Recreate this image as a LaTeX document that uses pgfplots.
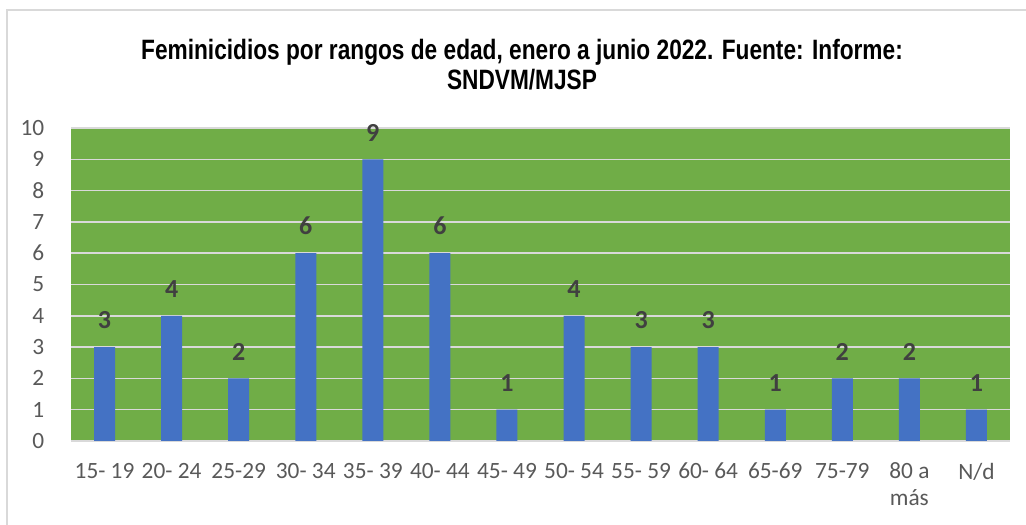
\documentclass[border=0pt]{standalone}
\usepackage{pgfplots}
\pgfplotsset{compat=1.18}
\usepackage{fontspec}
\setmainfont{Carlito}
\newfontfamily\titlefont{Liberation Sans}
\definecolor{bargreen}{HTML}{70AD47}
\definecolor{barblue}{HTML}{4472C4}
\definecolor{ticktext}{HTML}{595959}
\definecolor{lbltext}{HTML}{404040}
\definecolor{gridc}{HTML}{D9D9D9}
\begin{document}
\begin{tikzpicture}[x=0.75pt,y=0.75pt]
\path[use as bounding box] (0,0) rectangle (1026,525);
\draw[gridc, line width=1.5pt] (7,-20) -- (7,515) -- (1040,515);
\node[font=\titlefont\bfseries\fontsize{21}{22.5}\selectfont, align=center] at (522,460)
  {\scalebox{0.81}[1]{Feminicidios por rangos de edad, enero a junio 2022. Fuente: Informe:}\\
   \scalebox{0.81}[1]{SNDVM/MJSP}};
\foreach \v in {0,...,10} {
  \node[anchor=east, font=\fontsize{17.5}{20}\selectfont, text=ticktext] at (49,84+31.3*\v) {\v};
}
\begin{axis}[
  at={(53.25pt,63pt)}, anchor=south west,
  scale only axis, width=704.25pt, height=234.75pt,
  xmin=-0.5, xmax=13.5, ymin=0, ymax=10,
  axis background/.style={fill=bargreen},
  axis x line*=bottom, axis y line*=left,
  x axis line style={gridc, line width=1.2pt},
  y axis line style={draw=none},
  ytick={0,...,10}, yticklabels={}, ymajorgrids,
  grid style={gridc, line width=1.1pt},
  xtick=data,
  xticklabels={15- 19,20- 24,25-29,30- 34,35- 39,40- 44,45- 49,50- 54,55- 59,60- 64,65-69,75-79,80 a\\más,N/d},
  xticklabel style={align=center, anchor=north, yshift=-13pt, font=\fontsize{17.5}{20}\selectfont, text=ticktext},
  major tick length=0pt,
  tick style={draw=none},
  /pgf/number format/assume math mode=true,
  clip=false,
]
\addplot[ybar, bar width=15.75pt, fill=barblue, draw=none,
  nodes near coords,
  every node near coord/.append style={font=\bfseries\fontsize{19.5}{20}\selectfont, text=lbltext, anchor=south, yshift=10pt}]
  coordinates {(0,3) (1,4) (2,2) (3,6) (4,9) (5,6) (6,1) (7,4) (8,3) (9,3) (10,1) (11,2) (12,2) (13,1)};
\end{axis}
\end{tikzpicture}
\end{document}
